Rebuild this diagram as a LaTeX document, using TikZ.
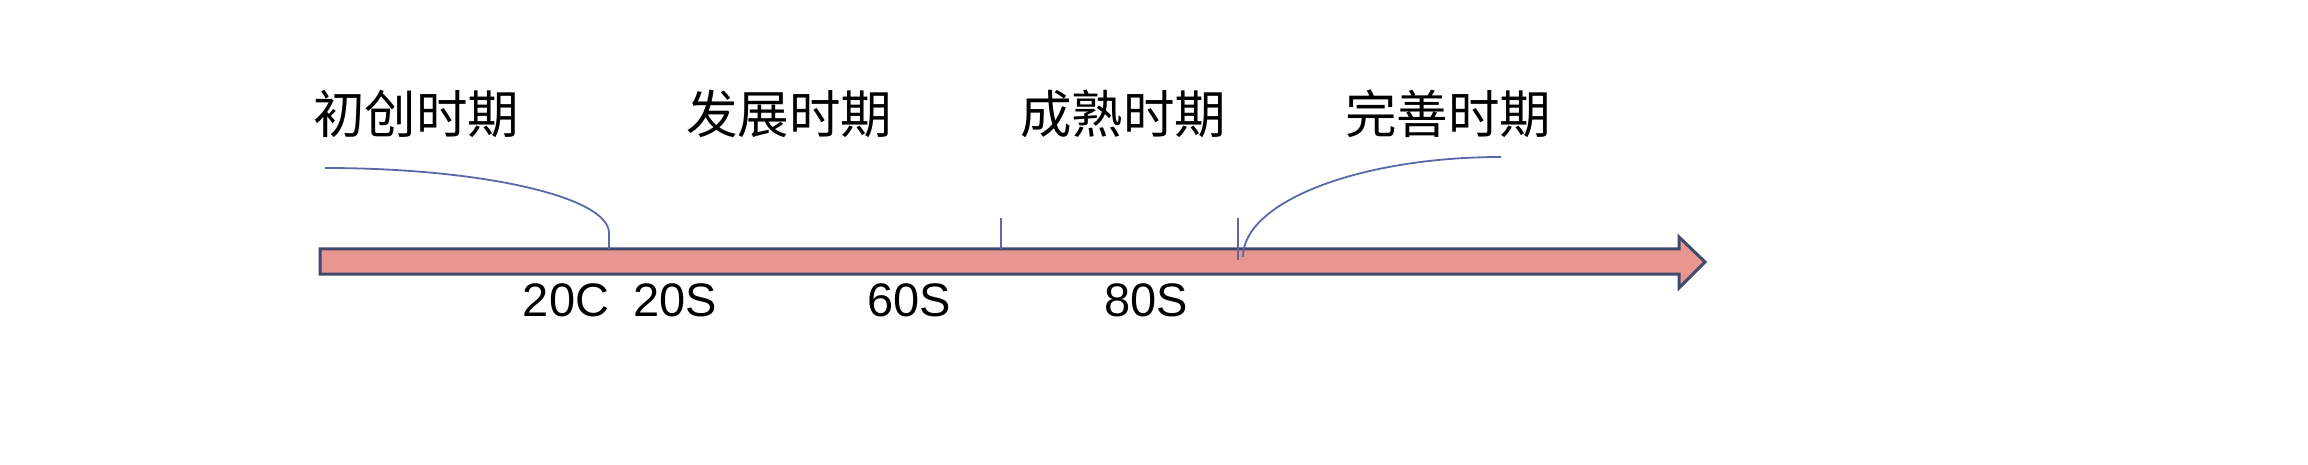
\documentclass[tikz,border=0pt]{standalone}
\usepackage{fontspec}
\setmainfont{Liberation Sans}
\newfontfamily\cjk{Noto Sans CJK SC}
\definecolor{arrfill}{HTML}{E8968F}
\definecolor{arrline}{HTML}{3F4A6C}
\definecolor{curvecol}{HTML}{5A68A8}
\begin{document}
\begin{tikzpicture}[x=1pt,y=-1pt,
  period/.style={anchor=base,inner sep=0pt,font=\cjk\fontsize{51.5}{52}\selectfont},
  yearlbl/.style={anchor=base,inner sep=0pt,font=\fontsize{47}{47}\selectfont},
  conn/.style={draw=curvecol,line width=1.8pt}]
\useasboundingbox (0,0) rectangle (2308,465);
% arrow
\path[fill=arrfill,draw=arrline,line width=3pt,line join=miter]
  (320,249) -- (1679,249) -- (1679,237) -- (1705,262) -- (1679,288) -- (1679,274) -- (320,274) -- cycle;
% period labels
\node[period] (p1) at (416,134) {初创时期};
\node[period] (p2) at (789,134) {发展时期};
\node[period] (p3) at (1123,134) {成熟时期};
\node[period] (p4) at (1448,134) {完善时期};
% year labels
\node[yearlbl] (y1) at (566,316) {20C};
\node[yearlbl] (y2) at (675,316) {20S};
\node[yearlbl] (y3) at (909,316) {60S};
\node[yearlbl] (y4) at (1146,316) {80S};
% connectors
\coordinate (c1s) at (325,168);
\coordinate (c1m) at (609,233);
\coordinate (c1e) at (609,249);
\draw[conn] (c1s) .. controls (482,168) and (609,197) .. (c1m) -- (c1e);
\coordinate (t1a) at (1001,218);
\coordinate (t1b) at (1001,249);
\draw[conn] (t1a) -- (t1b);
\coordinate (t2a) at (1238,218);
\coordinate (t2b) at (1238,260);
\draw[conn] (t2a) -- (t2b);
\coordinate (c2s) at (1243,257);
\coordinate (c2e) at (1501,157);
\draw[conn] (c2s) .. controls (1243,202) and (1359,157) .. (c2e);
\end{tikzpicture}
\end{document}
